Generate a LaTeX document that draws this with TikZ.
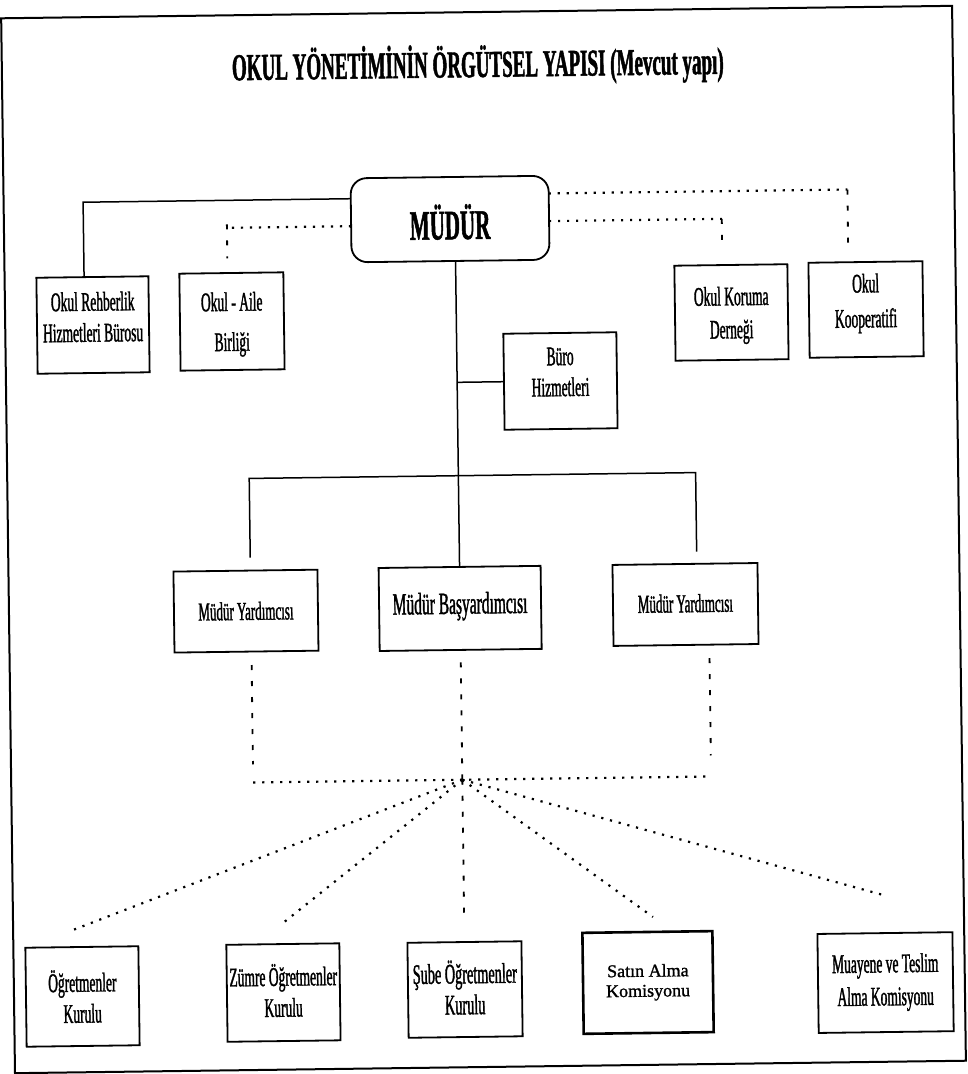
\documentclass[tikz,border=0pt]{standalone}
\usepackage{fontspec}
\setmainfont[FakeStretch=0.5, FakeBold=1.2]{Liberation Serif}
\newfontfamily\satfont[FakeBold=1.2]{Liberation Serif}
\tikzset{
  box/.style={draw, line width=1.8pt, rectangle, inner sep=0pt},
  lbl/.style={align=center, inner sep=0pt, font=\fontsize{27}{31}\selectfont},
  solidln/.style={line width=1.5pt},
  dotln/.style={line width=2.2pt, dash pattern=on 2.2pt off 6.8pt},
  dashln/.style={line width=1.8pt, dash pattern=on 5pt off 11pt},
}
\begin{document}
\begin{tikzpicture}[x=1pt,y=-1pt]
\useasboundingbox (0,0) rectangle (968,1074);
\fill[white] (0,0) rectangle (968,1074);
\begin{scope}[rotate around={0.75:(484,537)}, transform shape]
% frame
\draw[line width=2pt] (8,12) rectangle (959,1067);
% title
\node[font=\bfseries\fontsize{38}{40}\selectfont, anchor=base, inner sep=0pt] (title) at (484,77) {OKUL YÖNETİMİNİN ÖRGÜTSEL YAPISI (Mevcut yapı)};
% boxes
\node[box, rounded corners=16pt, minimum width=198pt, minimum height=84pt,
  label={[inner sep=0pt, yshift=-3pt, font=\bfseries\fontsize{42}{44}\selectfont]center:MÜDÜR}] (mudur) at (454.2,218.6) {};
\node[box, minimum width=112pt, minimum height=96pt,
  label={[lbl, yshift=8pt]center:{Okul Rehberlik\\Hizmetleri Bürosu}}] (reh) at (95.8,319.9) {};
\node[box, minimum width=104pt, minimum height=97pt,
  label={[lbl, yshift=-3pt]center:{Okul - Aile\\[9pt]Birliği}}] (aile) at (234.8,318.2) {};
\node[box, minimum width=113pt, minimum height=95pt,
  label={[lbl, yshift=-3pt]center:{Okul Koruma\\[2pt]Derneği}}] (koruma) at (734.4,315.7) {};
\node[box, minimum width=114pt, minimum height=95pt,
  label={[lbl, yshift=6pt]center:{Okul\\[4pt]Kooperatifi}}] (koop) at (869,314.5) {};
\node[box, minimum width=113pt, minimum height=96pt,
  label={[lbl, yshift=9pt]center:{Büro\\Hizmetleri}}] (buro) at (562.5,382) {};
\node[box, minimum width=144pt, minimum height=81pt,
  label={[lbl, font=\fontsize{26}{30}\selectfont]center:{Müdür Yardımcısı}}] (my1) at (245,608) {};
\node[box, minimum width=162pt, minimum height=83pt,
  label={[lbl, yshift=2pt, font=\fontsize{31}{34}\selectfont]center:{Müdür Başyardımcısı}}] (bas) at (459.2,608.1) {};
\node[box, minimum width=145pt, minimum height=81pt,
  label={[lbl, yshift=1pt, font=\fontsize{26}{30}\selectfont]center:{Müdür Yardımcısı}}] (my2) at (684.6,607.1) {};
\node[box, minimum width=113pt, minimum height=99pt,
  label={[lbl]center:{Öğretmenler\\Kurulu}}] (ogr) at (76.5,991.2) {};
\node[box, minimum width=113pt, minimum height=97pt,
  label={[lbl, yshift=2pt]center:{Zümre Öğretmenler\\Kurulu}}] (zumre) at (277.5,989.9) {};
\node[box, minimum width=114pt, minimum height=95pt,
  label={[lbl, yshift=2pt, font=\fontsize{28.5}{31}\selectfont]center:{Şube Öğretmenler\\Kurulu}}] (sube) at (459.1,989.25) {};
\node[box, line width=2.6pt, minimum width=130pt, minimum height=101pt,
  label={[lbl, font=\satfont\fontsize{18}{20}\selectfont]center:{Satın Alma\\Komisyonu}}] (satin) at (642.2,984.6) {};
\node[box, minimum width=135pt, minimum height=99pt,
  label={[lbl]center:{Muayene ve Teslim\\[2pt]Alma Komisyonu}}] (muay) at (879.7,987.8) {};
% coordinates
\coordinate (mL1) at (355.2,197);
\coordinate (kL) at (87.5,197);
\coordinate (rehT) at (87.5,271.9);
\coordinate (mL2) at (355.2,224.5);
\coordinate (kA) at (231,224.5);
\coordinate (kAt) at (231,221);
\coordinate (kAb) at (231,255);
\coordinate (mR1) at (553.2,194.3);
\coordinate (kK) at (852,194.3);
\coordinate (kKb) at (852,248);
\coordinate (mR2) at (553.2,222);
\coordinate (kR) at (726,222);
\coordinate (kRb) at (726,251);
\coordinate (trB) at (459.2,382);
\coordinate (barL) at (250,475.4);
\coordinate (barR) at (696.5,475.4);
\coordinate (dropL) at (250,554.5);
\coordinate (dropR) at (696.5,554.5);
\coordinate (dL1) at (250,662);
\coordinate (dL2) at (250,779.5);
\coordinate (dM1) at (459.2,662);
\coordinate (hub) at (459.2,779.5);
\coordinate (dR1) at (708,661);
\coordinate (dR2) at (708,779.5);
\coordinate (eO) at (68,924.6);
\coordinate (eZ) at (278,920.4);
\coordinate (eS) at (459.2,921.7);
\coordinate (eA) at (648,919.2);
\coordinate (eM) at (878.3,900.2);
% solid connectors
\draw[solidln] (mL1) -- (kL) -- (rehT);
\draw[solidln] ([xshift=5pt]mudur.south) -- (bas.north);
\draw[solidln] (trB) -- (buro.west);
\draw[solidln] (dropL) -- (barL) -- (barR) -- (dropR);
% dotted / dashed upper
\draw[dotln] (mL2) -- (kA);
\draw[dashln] (kAt) -- (kAb);
\draw[dotln] (mR1) -- (kK);
\draw[dashln] (kK) -- (kKb);
\draw[dotln] (mR2) -- (kR);
\draw[dashln] (kR) -- (kRb);
% lower
\draw[dashln] (dL1) -- ([yshift=18pt]dL2);
\draw[dashln] (dM1) -- (hub);
\draw[dashln] (dR1) -- ([yshift=21pt]dR2);
\draw[dotln] (dL2) -- ([xshift=-4pt]dR2);
\draw[dotln] (hub) -- (eO);
\draw[dotln] (hub) -- (eZ);
\draw[dashln] (hub) -- (eS);
\draw[dotln] (hub) -- (eA);
\draw[dotln] (hub) -- (eM);
\end{scope}
\end{tikzpicture}
\end{document}
